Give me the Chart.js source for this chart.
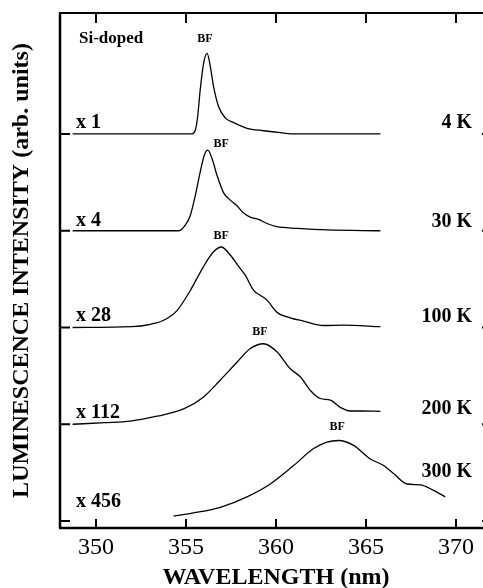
<!DOCTYPE html>
<html>
<head>
<meta charset="utf-8">
<script src="https://cdn.jsdelivr.net/npm/chart.js@4"></script>
<style>
  html, body { margin: 0; padding: 0; background: #fff; }
  #wrap { width: 483px; height: 588px; overflow: hidden; position: relative; }
  #chart { position: absolute; left: 0; top: 0; }
</style>
</head>
<body>
<div id="wrap"><canvas id="chart" width="500" height="588"></canvas></div>
<script>
// wavelength ticks (nm)
var xTicks = [350, 355, 360, 365, 370];
// vertical offsets of the stacked spectra (0 = bottom trace)
var baselines = [4, 3, 2, 1, 0];
var temps = ["4 K", "30 K", "100 K", "200 K", "300 K"];
var factors = ["x 1", "x 4", "x 28", "x 112", "x 456"];
var peakHeight = 0.832;

// spectra, normalised to peak = 1
var wl4 = [348.7, 355.3, 355.52, 355.65, 355.79, 355.98, 356.17, 356.35, 356.53, 356.81, 357.18, 357.65, 358.39, 359.31, 360.24, 361.2, 365.8];
var int4 = [0, 0, 0.05, 0.22, 0.55, 0.88, 1.0, 0.84, 0.59, 0.34, 0.20, 0.14, 0.07, 0.04, 0.016, 0, 0];

var wl30 = [348.7, 354.6, 354.96, 355.24, 355.52, 355.79, 356.02, 356.22, 356.44, 356.72, 357.09, 357.46, 357.83, 358.2, 358.57, 359.03, 359.5, 360.05, 361.17, 362.83, 365.8];
var int30 = [0, 0, 0.07, 0.19, 0.44, 0.73, 0.94, 1.0, 0.90, 0.69, 0.47, 0.38, 0.31, 0.22, 0.17, 0.14, 0.09, 0.05, 0.03, 0.01, 0];

var wl100 = [348.7, 352.0, 353.02, 353.76, 354.5, 355.24, 355.98, 356.53, 356.96, 357.46, 357.92, 358.29, 358.76, 359.13, 359.5, 360.05, 360.79, 361.53, 362.64, 363.76, 365.8];
var int100 = [0, 0.01, 0.04, 0.09, 0.21, 0.46, 0.76, 0.94, 1.0, 0.90, 0.76, 0.65, 0.46, 0.40, 0.34, 0.19, 0.12, 0.08, 0.025, 0.03, 0.01];

var wl200 = [348.7, 350.5, 351.91, 353.39, 354.87, 355.98, 356.91, 357.83, 358.57, 359.31, 360.05, 360.79, 361.35, 361.91, 362.46, 363.02, 363.57, 364.13, 364.87, 365.8];
var int200 = [0, 0.02, 0.04, 0.10, 0.19, 0.34, 0.55, 0.77, 0.94, 1.0, 0.90, 0.69, 0.59, 0.42, 0.32, 0.30, 0.21, 0.165, 0.165, 0.16];

var wl300 = [354.31, 355.42, 356.91, 358.39, 359.68, 360.98, 362.09, 362.83, 363.48, 364.31, 365.24, 365.98, 366.53, 367.28, 368.02, 368.76, 369.4];
var int300 = [0.06, 0.10, 0.17, 0.30, 0.46, 0.69, 0.90, 0.98, 1.0, 0.94, 0.77, 0.69, 0.59, 0.46, 0.45, 0.38, 0.30];

var spectraWl = [wl4, wl30, wl100, wl200, wl300];
var spectraInt = [int4, int30, int100, int200, int300];

// "BF" label anchors (nm) and lift above baseline (axis units)
var bfWl = [356.05, 356.95, 356.95, 359.1, 363.4];
var bfLift = [0.98, 0.9, 0.95, 0.95, 0.97];
// label lifts above baseline (axis units)
var tempLift = [0.06, 0.04, 0.06, 0.11, 0.45];
var factorLift = [0.06, 0.05, 0.07, 0.06, 0.15];

var serif = "'Liberation Serif', 'Times New Roman', serif";

function getDatasets() {
    var sets = [];
    for (var i = 0; i < spectraWl.length; i++) {
        var pts = [];
        for (var j = 0; j < spectraWl[i].length; j++) {
            pts.push({ x: spectraWl[i][j], y: baselines[i] + spectraInt[i][j] * peakHeight });
        }
        sets.push({
            label: temps[i],
            data: pts,
            showLine: true,
            borderColor: "#000",
            borderWidth: 1.3,
            pointRadius: 0,
            cubicInterpolationMode: "monotone",
            fill: false
        });
    }
    return sets;
}

var framePlugin = {
    id: "frame",
    afterDraw: function (chart) {
        var ctx = chart.ctx;
        var a = chart.chartArea;
        var xs = chart.scales.x, ys = chart.scales.y;
        ctx.save();
        ctx.strokeStyle = "#000";
        ctx.lineCap = "butt";
        // box
        ctx.lineWidth = 2.5;
        ctx.beginPath();
        ctx.moveTo(a.left, a.top); ctx.lineTo(a.left, a.bottom);
        ctx.moveTo(a.left - 1, a.bottom); ctx.lineTo(a.right, a.bottom);
        ctx.stroke();
        ctx.lineWidth = 2;
        ctx.beginPath();
        ctx.moveTo(a.left - 1, a.top); ctx.lineTo(a.right, a.top);
        ctx.moveTo(a.right, a.top); ctx.lineTo(a.right, a.bottom);
        ctx.stroke();
        // inward ticks
        ctx.lineWidth = 2;
        ctx.beginPath();
        xTicks.forEach(function (v) {
            var px = xs.getPixelForValue(v);
            ctx.moveTo(px, a.top); ctx.lineTo(px, a.top + 10);
            ctx.moveTo(px, a.bottom); ctx.lineTo(px, a.bottom - 9);
        });
        baselines.forEach(function (v) {
            var py = ys.getPixelForValue(v);
            ctx.moveTo(a.left, py); ctx.lineTo(a.left + 10, py);
            ctx.moveTo(a.right, py); ctx.lineTo(a.right - 10, py);
        });
        ctx.stroke();

        ctx.fillStyle = "#000";
        // sample label
        ctx.font = "bold 17px " + serif;
        ctx.textAlign = "left";
        ctx.textBaseline = "alphabetic";
        ctx.fillText("Si-doped", 79, 43);

        for (var i = 0; i < baselines.length; i++) {
            // multiplication factors
            ctx.font = "bold 20px " + serif;
            ctx.textAlign = "left";
            ctx.fillText(factors[i], 76, ys.getPixelForValue(baselines[i] + factorLift[i]));
            // temperatures
            ctx.textAlign = "right";
            ctx.fillText(temps[i], 472, ys.getPixelForValue(baselines[i] + tempLift[i]));
            // BF labels
            ctx.font = "bold 12px " + serif;
            ctx.textAlign = "center";
            ctx.textBaseline = "middle";
            ctx.fillText("BF", xs.getPixelForValue(bfWl[i]), ys.getPixelForValue(baselines[i] + bfLift[i]));
            ctx.textBaseline = "alphabetic";
        }
        ctx.restore();
    }
};

var ctx = document.getElementById("chart").getContext("2d");
var myChart = new Chart(ctx, {
    type: "scatter",
    data: { datasets: getDatasets() },
    plugins: [framePlugin],
    options: {
        responsive: false,
        animation: { duration: 0 },
        layout: { padding: { top: 13, right: 8, left: 0, bottom: 0 } },
        plugins: {
            legend: { display: false },
            tooltip: { enabled: false }
        },
        scales: {
            x: {
                type: "linear",
                min: 348,
                max: 372,
                afterBuildTicks: function (scale) {
                    scale.ticks = xTicks.map(function (v) { return { value: v }; });
                },
                afterFit: function (scale) { scale.height = 60; },
                grid: { display: false, drawTicks: false },
                border: { display: false },
                ticks: {
                    color: "#000",
                    padding: 5,
                    font: { family: serif, size: 24 }
                },
                title: {
                    display: true,
                    text: "WAVELENGTH (nm)",
                    color: "#000",
                    padding: { top: 0, bottom: -4 },
                    font: { family: serif, size: 24, weight: "bold" }
                }
            },
            y: {
                type: "linear",
                min: -0.072,
                max: 5.25,
                afterBuildTicks: function (scale) {
                    scale.ticks = baselines.map(function (v) { return { value: v }; });
                },
                afterFit: function (scale) { scale.width = 60; },
                grid: { display: false, drawTicks: false },
                border: { display: false },
                ticks: { display: false },
                title: {
                    display: true,
                    text: "LUMINESCENCE INTENSITY (arb. units)",
                    color: "#000",
                    padding: { top: 7, bottom: 0 },
                    font: { family: serif, size: 24, weight: "bold" }
                }
            }
        }
    }
});
</script>
</body>
</html>
